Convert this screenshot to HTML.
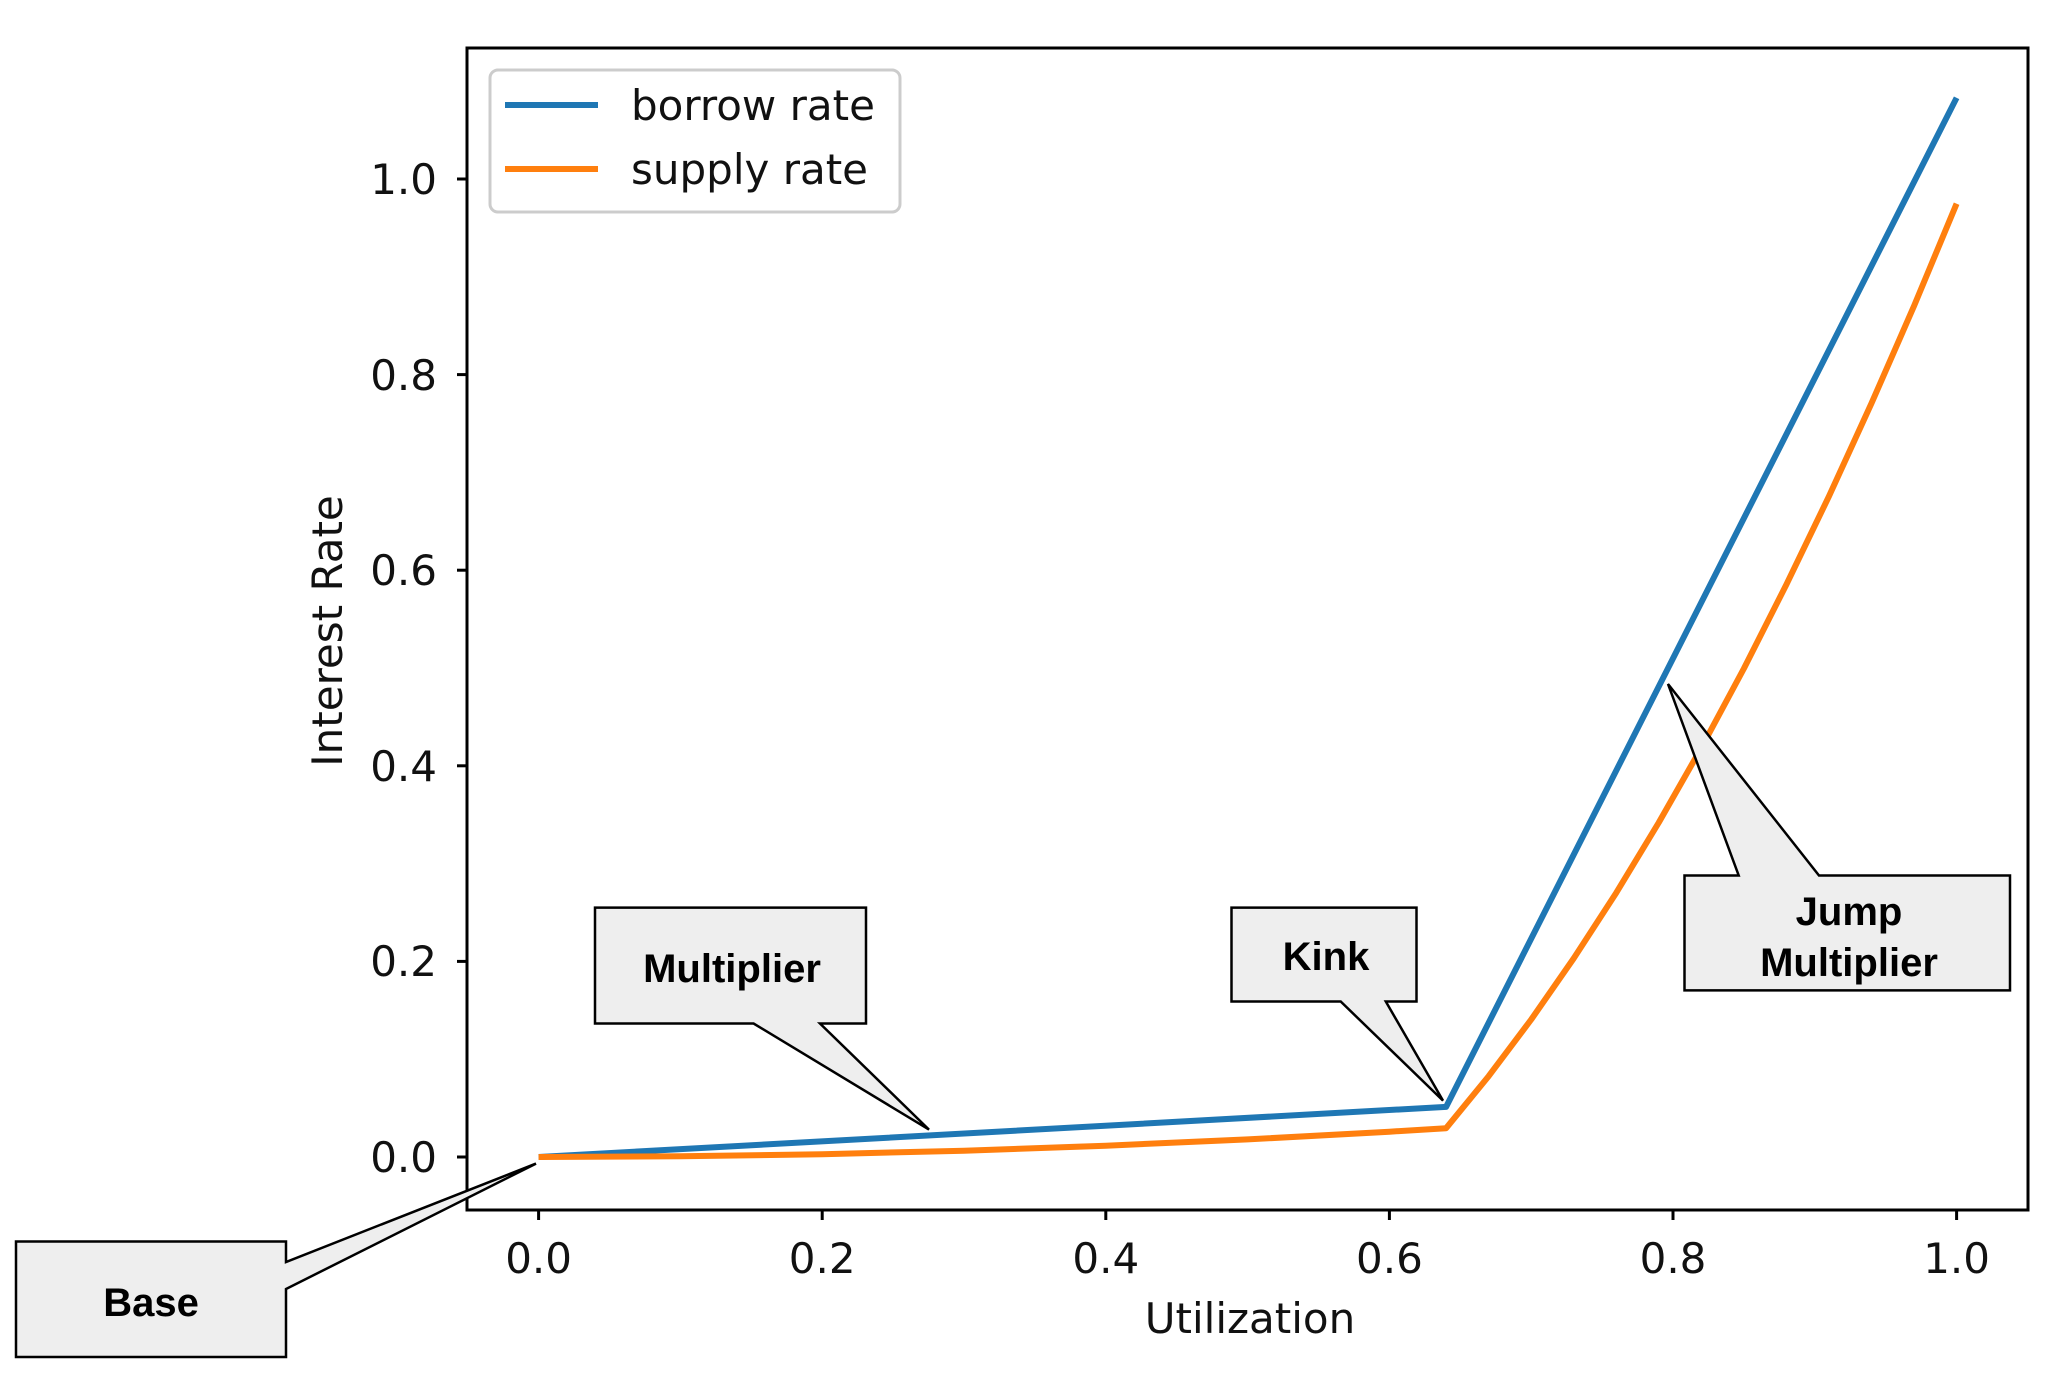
<!DOCTYPE html>
<html><head><meta charset="utf-8"><style>html,body{margin:0;padding:0;background:#fff}svg{display:block}</style></head>
<body>
<svg width="2050" height="1380" viewBox="0 0 2050 1380" xmlns="http://www.w3.org/2000/svg">
<rect x="0" y="0" width="2050" height="1380" fill="#fff"/>
<rect x="467" y="48" width="1561" height="1162" fill="none" stroke="#000" stroke-width="3"/>
<g stroke="#000" stroke-width="3">
<line x1="467" y1="1157" x2="457" y2="1157"/>
<line x1="467" y1="961.4" x2="457" y2="961.4"/>
<line x1="467" y1="765.8" x2="457" y2="765.8"/>
<line x1="467" y1="570.2" x2="457" y2="570.2"/>
<line x1="467" y1="374.6" x2="457" y2="374.6"/>
<line x1="467" y1="179" x2="457" y2="179"/>
<line x1="538.6" y1="1210" x2="538.6" y2="1220"/>
<line x1="822.2" y1="1210" x2="822.2" y2="1220"/>
<line x1="1105.8" y1="1210" x2="1105.8" y2="1220"/>
<line x1="1389.4" y1="1210" x2="1389.4" y2="1220"/>
<line x1="1673" y1="1210" x2="1673" y2="1220"/>
<line x1="1956.6" y1="1210" x2="1956.6" y2="1220"/>
</g>
<g font-family="DejaVu Sans, sans-serif" font-size="42" fill="#111" text-anchor="end">
<text x="437" y="1172">0.0</text>
<text x="437" y="976">0.2</text>
<text x="437" y="781">0.4</text>
<text x="437" y="585">0.6</text>
<text x="437" y="390">0.8</text>
<text x="437" y="194">1.0</text>
</g>
<g font-family="DejaVu Sans, sans-serif" font-size="42" fill="#111" text-anchor="middle">
<text x="538.6" y="1273">0.0</text>
<text x="822.2" y="1273">0.2</text>
<text x="1105.8" y="1273">0.4</text>
<text x="1389.4" y="1273">0.6</text>
<text x="1673" y="1273">0.8</text>
<text x="1956.6" y="1273">1.0</text>
<text x="1250" y="1333">Utilization</text>
<text transform="translate(342,631) rotate(-90)">Interest Rate</text>
</g>
<polyline fill="none" stroke="#1f77b4" stroke-width="6" stroke-linejoin="round" points="538.6,1157 1446.1,1106.9 1956.6,97.8"/>
<polyline fill="none" stroke="#ff7f0e" stroke-width="6" stroke-linejoin="round" points="538.6,1157 680.4,1156.3 822.2,1154.2 964,1150.7 1105.8,1145.7 1247.6,1139.4 1389.4,1131.7 1446.1,1128.2 1488.7,1076.1 1531.2,1019.5 1573.7,958.4 1616.3,892.7 1658.8,822.5 1701.4,747.7 1743.9,668.5 1786.4,584.5 1829,496.2 1871.5,403.3 1914.1,305.8 1956.6,203.7"/>
<rect x="490" y="70" width="410" height="142" rx="8" fill="#fff" stroke="#ccc" stroke-width="3"/>
<line x1="505" y1="105" x2="598" y2="105" stroke="#1f77b4" stroke-width="6"/>
<line x1="505" y1="169" x2="598" y2="169" stroke="#ff7f0e" stroke-width="6"/>
<g font-family="DejaVu Sans, sans-serif" font-size="42" fill="#111">
<text x="631" y="120">borrow rate</text>
<text x="631" y="184">supply rate</text>
</g>
<g fill="#eee" stroke="#000" stroke-width="2.5" stroke-linejoin="miter">
<path d="M16,1241.5 H286 V1262 L536,1163.6 L286,1289 V1357 H16 Z"/>
<path d="M595,907.6 H866 V1023.5 H820 L929,1129.6 L753.6,1023.5 H595 Z"/>
<path d="M1231.5,907.6 H1416.5 V1001.5 H1385.8 L1443,1100.6 L1340.7,1001.5 H1231.5 Z"/>
<path d="M1684.5,875.5 H1738.7 L1668,684 L1819,875.5 H2010 V990.4 H1684.5 Z"/>
</g>
<g font-family="Liberation Sans, sans-serif" font-weight="bold" font-size="40" fill="#000" text-anchor="middle">
<text x="151" y="1316">Base</text>
<text x="732" y="982">Multiplier</text>
<text x="1326" y="970">Kink</text>
<text x="1849" y="925">Jump</text>
<text x="1849" y="976">Multiplier</text>
</g>
</svg>
</body></html>
